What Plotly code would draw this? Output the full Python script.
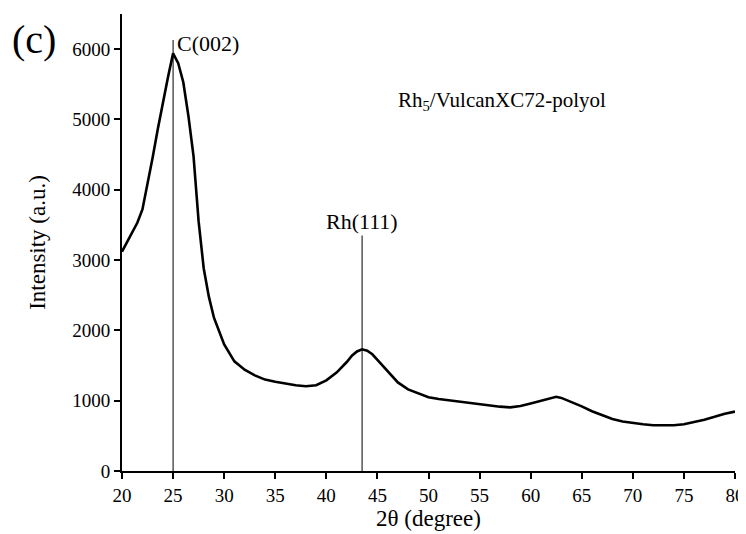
import plotly.graph_objects as go

two_theta = [20, 20.5, 21, 21.5, 22, 22.5, 23, 23.5, 24, 24.5, 25, 25.5, 26, 26.5, 27, 27.5, 28, 28.5, 29, 29.5,
             30, 31, 32, 33, 34, 35, 36, 37, 38, 39, 40, 41, 42, 42.5, 43, 43.5, 44, 44.5, 45, 46, 47, 48, 49,
             50, 51, 52, 53, 54, 55, 56, 57, 58, 59, 60, 61, 62, 62.5, 63, 64, 65, 66, 67, 68, 69, 70, 71, 72,
             73, 74, 75, 76, 77, 78, 79, 80]
intensity = [3120, 3260, 3400, 3530, 3720, 4080, 4460, 4860, 5250, 5600, 5940, 5800, 5530, 5050, 4480, 3550, 2880, 2480, 2180, 1980,
             1800, 1560, 1440, 1360, 1300, 1270, 1240, 1220, 1205, 1220, 1290, 1400, 1550, 1640, 1700, 1730, 1710, 1660, 1580, 1420, 1260, 1160, 1100,
             1050, 1025, 1005, 990, 975, 955, 935, 915, 905, 925, 960, 995, 1030, 1055, 1040, 985, 920, 850, 790, 740, 705, 680, 665, 650,
             645, 650, 665, 695, 730, 770, 815, 845]

peak_pos = [25, 43.5]
peak_top = [6130, 3350]
peak_labels = ["C(002)", "Rh(111)"]

fig = go.Figure()
fig.add_trace(go.Scatter(x=two_theta, y=intensity, mode="lines",
                         line=dict(color="black", width=2.6), showlegend=False))
for xp, yt in zip(peak_pos, peak_top):
    fig.add_trace(go.Scatter(x=[xp, xp], y=[0, yt], mode="lines",
                             line=dict(color="black", width=1), showlegend=False))

fig.add_annotation(x=peak_pos[0], y=peak_top[0], text=peak_labels[0], showarrow=False,
                   xanchor="left", yanchor="middle", xshift=2, yshift=-3,
                   font=dict(family="Liberation Serif", size=22, color="black"))
fig.add_annotation(x=peak_pos[1], y=peak_top[1], text=peak_labels[1], showarrow=False,
                   xanchor="center", yanchor="bottom", yshift=-1,
                   font=dict(family="Liberation Serif", size=22, color="black"))
fig.add_annotation(x=0.62, y=0.81, xref="paper", yref="paper",
                   text="Rh<sub>5</sub>/VulcanXC72-polyol", showarrow=False,
                   xanchor="center", yanchor="middle",
                   font=dict(family="Liberation Serif", size=21, color="black"))
fig.add_annotation(x=-0.183, y=0.945, xref="paper", yref="paper", text="(c)", showarrow=False,
                   xanchor="left", yanchor="middle",
                   font=dict(family="Liberation Serif", size=40, color="black"))

fig.update_layout(
    width=738, height=526,
    margin=dict(l=114, r=11, t=6, b=63, autoexpand=False),
    paper_bgcolor="white", plot_bgcolor="white",
    font=dict(family="Liberation Serif", size=19, color="black"),
    xaxis=dict(range=[20, 80], tickmode="linear", tick0=20, dtick=5, automargin=False,
               showline=True, linecolor="black", linewidth=2, ticks="outside",
               ticklen=6, tickwidth=2, tickcolor="black", showgrid=False, zeroline=False,
               title=dict(text="2θ (degree)", font=dict(size=23), standoff=4),
               tickfont=dict(size=19)),
    yaxis=dict(range=[0, 6500], tickmode="linear", tick0=0, dtick=1000, automargin=False,
               showline=True, linecolor="black", linewidth=2, ticks="outside",
               ticklen=6, tickwidth=2, tickcolor="black", showgrid=False, zeroline=False,
               title=dict(text="Intensity (a.u.)", font=dict(size=23), standoff=20),
               tickfont=dict(size=19)),
)

fig.write_html("out.html")
